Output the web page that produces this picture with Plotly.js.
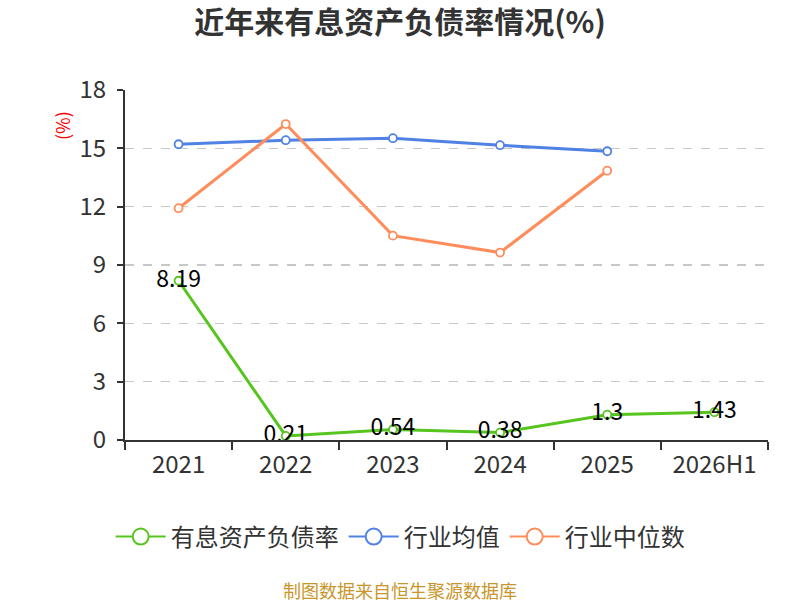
<!DOCTYPE html>
<html>
<head>
<meta charset="utf-8">
<script src="https://cdn.plot.ly/plotly-3.0.1.min.js"></script>
<style>
  html, body { margin: 0; padding: 0; background: #fff; }
  #chart { width: 800px; height: 600px; }
</style>
</head>
<body>
<div id="chart"></div>
<script>
// 年份
var years = ['2021', '2022', '2023', '2024', '2025', '2026H1'];
// 有息资产负债率
var debtRatio = [8.19, 0.21, 0.54, 0.38, 1.3, 1.43];
// 行业均值
var industryAvg = [15.21, 15.42, 15.52, 15.16, 14.85];
// 行业中位数
var industryMedian = [11.92, 16.25, 10.51, 9.64, 13.85];
var yTicks = [0, 3, 6, 9, 12, 15, 18];

var font = '"Noto Sans CJK SC", "Noto Sans", sans-serif';

function lineTrace(name, y, color, withText) {
    var t = {
        x: years.slice(0, y.length),
        y: y,
        name: name,
        type: 'scatter',
        mode: withText ? 'lines+markers+text' : 'lines+markers',
        line: { color: color, width: 3 },
        marker: { symbol: 'circle', size: 8, color: '#fff', line: { color: color, width: 1.8 } },
        cliponaxis: false,
        showlegend: false
    };
    if (withText) {
        t.text = y.map(function (v) { return String(v); });
        t.textposition = 'middle center';
        t.textfont = { family: font, size: 23, color: '#000' };
    }
    return t;
}

// legend-only entries, so the legend circles can be drawn bigger
function legendTrace(name, color) {
    return {
        x: [null], y: [null], name: name, type: 'scatter', mode: 'lines+markers',
        line: { color: color, width: 2 },
        marker: { symbol: 'circle', size: 18, color: '#fff', line: { color: color, width: 2 } },
        showlegend: true
    };
}

var data = [
    lineTrace('有息资产负债率', debtRatio, '#56c51e', true),
    lineTrace('行业均值', industryAvg, '#4f82e3', false),
    lineTrace('行业中位数', industryMedian, '#ff8d5b', false),
    legendTrace('有息资产负债率', '#56c51e'),
    legendTrace('行业均值', '#4f82e3'),
    legendTrace('行业中位数', '#ff8d5b')
];

var layout = {
    width: 800,
    height: 600,
    margin: { l: 125, r: 32, t: 90, b: 160 },
    paper_bgcolor: '#fff',
    plot_bgcolor: '#fff',
    font: { family: font, color: '#333' },
    showlegend: true,
    title: {
        text: '<b>近年来有息资产负债率情况(%)</b>',
        font: { family: font, size: 30, color: '#333' },
        x: 0.5, xanchor: 'center', y: 0.962, yanchor: 'middle'
    },
    xaxis: {
        type: 'category',
        categoryorder: 'array',
        categoryarray: years,
        range: [-0.5, 5.5],
        tickson: 'boundaries',
        ticks: 'outside',
        ticklen: 8,
        tickwidth: 2,
        tickcolor: '#333',
        ticklabelstandoff: 2,
        showline: true,
        linecolor: '#333',
        linewidth: 2,
        showgrid: false,
        tickfont: { family: font, size: 24, color: '#333' },
        fixedrange: true
    },
    yaxis: {
        range: [0, 18],
        tickvals: yTicks,
        ticktext: yTicks.map(String),
        ticks: 'outside',
        ticklen: 6,
        tickwidth: 2,
        tickcolor: '#333',
        ticklabelstandoff: 6,
        showline: true,
        linecolor: '#333',
        linewidth: 2,
        showgrid: true,
        gridcolor: '#c8c8c8',
        gridwidth: 1.5,
        griddash: 'dash',
        zeroline: false,
        tickfont: { family: font, size: 24, color: '#333' },
        fixedrange: true
    },
    legend: {
        orientation: 'h',
        x: 0.428, xanchor: 'center',
        y: -0.277, yanchor: 'middle',
        font: { family: font, size: 24, color: '#333' },
        itemwidth: 50,
        traceorder: 'normal'
    },
    annotations: [
        {
            text: '(%)', textangle: -90,
            xref: 'paper', yref: 'paper',
            x: -0.098, y: 0.9, xanchor: 'center', yanchor: 'middle',
            showarrow: false,
            font: { family: font, size: 18, color: '#ff0000' }
        },
        {
            text: '制图数据来自恒生聚源数据库',
            xref: 'paper', yref: 'paper',
            x: 0.428, y: -0.428, xanchor: 'center', yanchor: 'middle',
            showarrow: false,
            font: { family: font, size: 18, color: '#c8962a' }
        }
    ]
};

Plotly.newPlot('chart', data, layout, { displayModeBar: false, staticPlot: true });
</script>
</body>
</html>
